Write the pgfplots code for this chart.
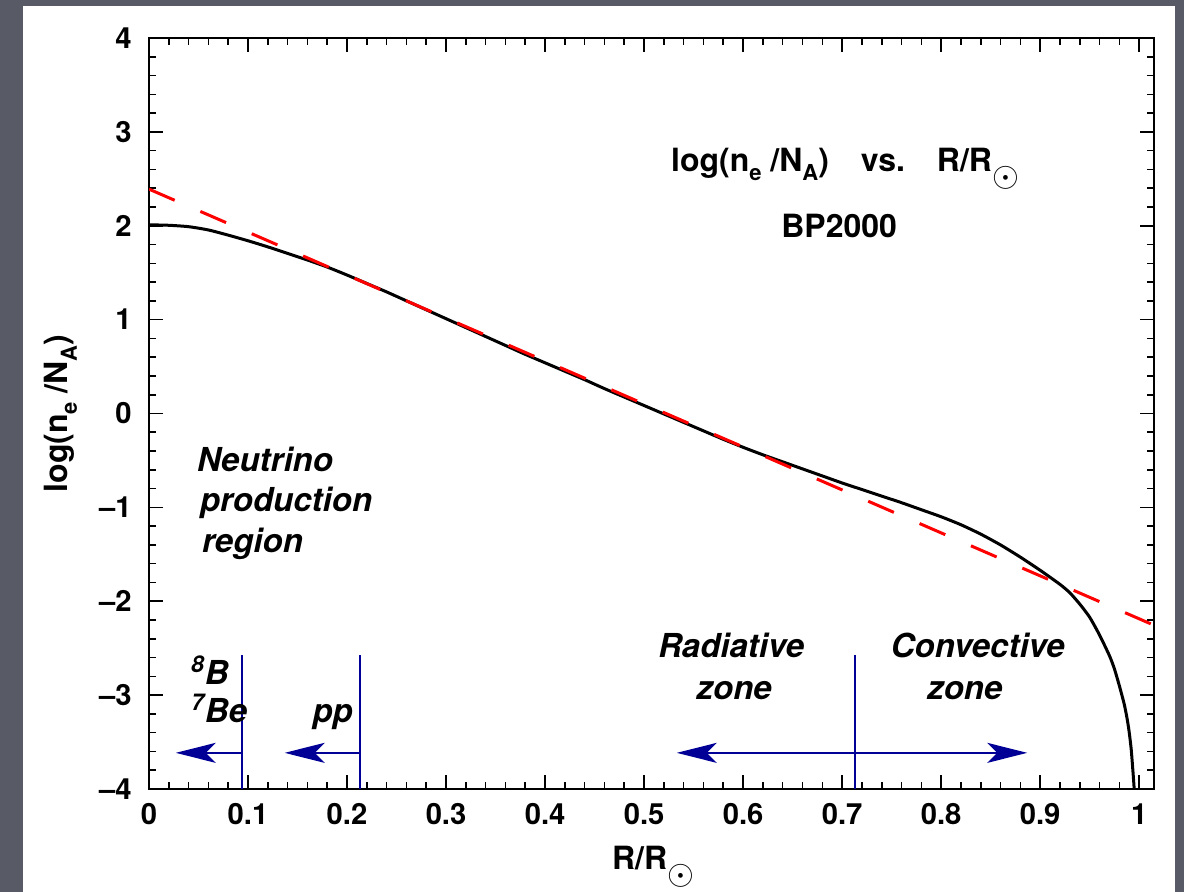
\documentclass[border=0pt]{standalone}
\usepackage{amsmath}
\usepackage{fontspec}
\setmainfont{TeX Gyre Heros}
\usepackage{pgfplots}
\pgfplotsset{compat=1.18}
\usetikzlibrary{arrows.meta}
\definecolor{bgray}{RGB}{88,91,101}
\definecolor{navy}{RGB}{0,0,150}
\newcommand{\sun}{\raisebox{-0.45em}{$\odot$}}
\newcommand{\sub}[1]{\raisebox{-4.5pt}{\fontsize{11}{13}\selectfont #1}}
\newcommand{\lf}{\fontsize{16}{19}\selectfont\bfseries}
\newcommand{\lfi}{\fontsize{16.5}{20}\selectfont\bfseries\itshape}
\begin{document}
\begin{tikzpicture}
\path[use as bounding box] (-74.5pt,-51.5pt) rectangle (517.5pt,394.5pt);
\fill[bgray] (-74.5pt,-51.5pt) rectangle (517.5pt,394.5pt);
\fill[white] (-63pt,-51.5pt) rectangle (513pt,391.5pt);
\begin{axis}[
  at={(0,0)}, anchor=south west, scale only axis,
  width=502.5pt, height=375.5pt,
  xmin=0, xmax=1.015, ymin=-4, ymax=4,
  xtick={0,0.1,0.2,0.3,0.4,0.5,0.6,0.7,0.8,0.9,1.0},
  xticklabels={0,0.1,0.2,0.3,0.4,0.5,0.6,0.7,0.8,0.9,1},
  ytick={-4,-3,-2,-1,0,1,2,3,4},
  yticklabels={–4,–3,–2,–1,0,1,2,3,4},
  minor x tick num=4, minor y tick num=4,
  tick align=inside,
  major tick length=7pt, minor tick length=3.5pt,
  every tick/.style={black, line width=0.8pt},
  axis line style={line width=1pt},
  tick label style={font=\fontsize{14.6}{17}\selectfont\bfseries},
  xticklabel style={anchor=base, yshift=-18pt},
  yticklabel style={anchor=east, inner sep=0pt, xshift=-8.5pt},
  every node/.append style={inner sep=0pt},
]
\addplot[black, line width=1.5pt, smooth, tension=0.4] coordinates {
(0,2.01) (0.02,2.005) (0.04,1.99) (0.06,1.955) (0.08,1.90) (0.10,1.84)
(0.12,1.775) (0.14,1.705) (0.16,1.635) (0.18,1.56) (0.20,1.475)
(0.22,1.385) (0.24,1.295) (0.26,1.20) (0.28,1.105) (0.30,1.01)
(0.32,0.915) (0.34,0.82) (0.36,0.725) (0.38,0.63) (0.40,0.54)
(0.42,0.45) (0.44,0.36) (0.46,0.265) (0.48,0.175) (0.50,0.085)
(0.52,-0.005) (0.54,-0.095) (0.56,-0.185) (0.58,-0.275) (0.60,-0.36)
(0.62,-0.44) (0.64,-0.515) (0.66,-0.59) (0.68,-0.665) (0.70,-0.74)
(0.72,-0.81) (0.74,-0.88) (0.76,-0.95) (0.78,-1.025) (0.80,-1.10)
(0.82,-1.185) (0.84,-1.285) (0.86,-1.40) (0.88,-1.53) (0.90,-1.67)
(0.92,-1.82) (0.93,-1.91) (0.94,-2.03) (0.95,-2.17) (0.96,-2.36)
(0.97,-2.58) (0.975,-2.72) (0.98,-2.90) (0.985,-3.10) (0.988,-3.26)
(0.99,-3.40) (0.992,-3.58) (0.994,-3.85) (0.995,-4.0)
};
\addplot[red, line width=1.5pt, dash pattern=on 14pt off 14pt] coordinates {(0,2.39) (1.015,-2.2557)};
% vertical boundary lines
\addplot[navy, line width=1pt] coordinates {(0.094,-4) (0.094,-2.57)};
\addplot[navy, line width=1pt] coordinates {(0.213,-4) (0.213,-2.57)};
\addplot[navy, line width=1pt] coordinates {(0.713,-4) (0.713,-2.57)};
% arrows
\addplot[navy, line width=1pt, -{Stealth[length=20pt,width=10pt,inset=5pt]}] coordinates {(0.094,-3.615) (0.027,-3.615)};
\addplot[navy, line width=1pt, -{Stealth[length=20pt,width=10pt,inset=5pt]}] coordinates {(0.213,-3.615) (0.137,-3.615)};
\addplot[navy, line width=1pt, -{Stealth[length=20pt,width=10pt,inset=5pt]}] coordinates {(0.713,-3.615) (0.533,-3.615)};
\addplot[navy, line width=1pt, -{Stealth[length=20pt,width=10pt,inset=5pt]}] coordinates {(0.713,-3.615) (0.887,-3.615)};
% texts
\node[anchor=base, font=\lf] at (axis cs:0.703,2.573) {log(n\sub{e} /N\sub{A})\quad vs.\quad R/R\sun};
\node[anchor=base, font=\lf] at (axis cs:0.697,1.87) {BP2000};
\node[anchor=base west, font=\lfi] at (axis cs:0.0414,-0.622) {Neutrino};
\node[anchor=base west, font=\lfi] at (axis cs:0.0444,-1.048) {production};
\node[anchor=base west, font=\lfi] at (axis cs:0.0465,-1.485) {region};
\node[anchor=base west, font=\lfi] at (axis cs:0.0354,-2.89) {\textsuperscript{8}B};
\node[anchor=base west, font=\lfi] at (axis cs:0.0354,-3.295) {\textsuperscript{7}Be};
\node[anchor=base west, font=\lfi] at (axis cs:0.158,-3.295) {pp};
\node[anchor=base, font=\lfi] at (axis cs:0.588,-2.60) {Radiative};
\node[anchor=base, font=\lfi] at (axis cs:0.591,-3.05) {zone};
\node[anchor=base, font=\lfi] at (axis cs:0.837,-2.60) {Convective};
\node[anchor=base, font=\lfi] at (axis cs:0.824,-3.05) {zone};
\end{axis}
\node[rotate=90, anchor=base, inner sep=0pt, font=\lf] at (-40.5pt,187.75pt) {log(n\sub{e} /N\sub{A})};
\node[anchor=base, inner sep=0pt, font=\lf] at (252pt,-40.5pt) {R/R\sun};
\end{tikzpicture}
\end{document}
